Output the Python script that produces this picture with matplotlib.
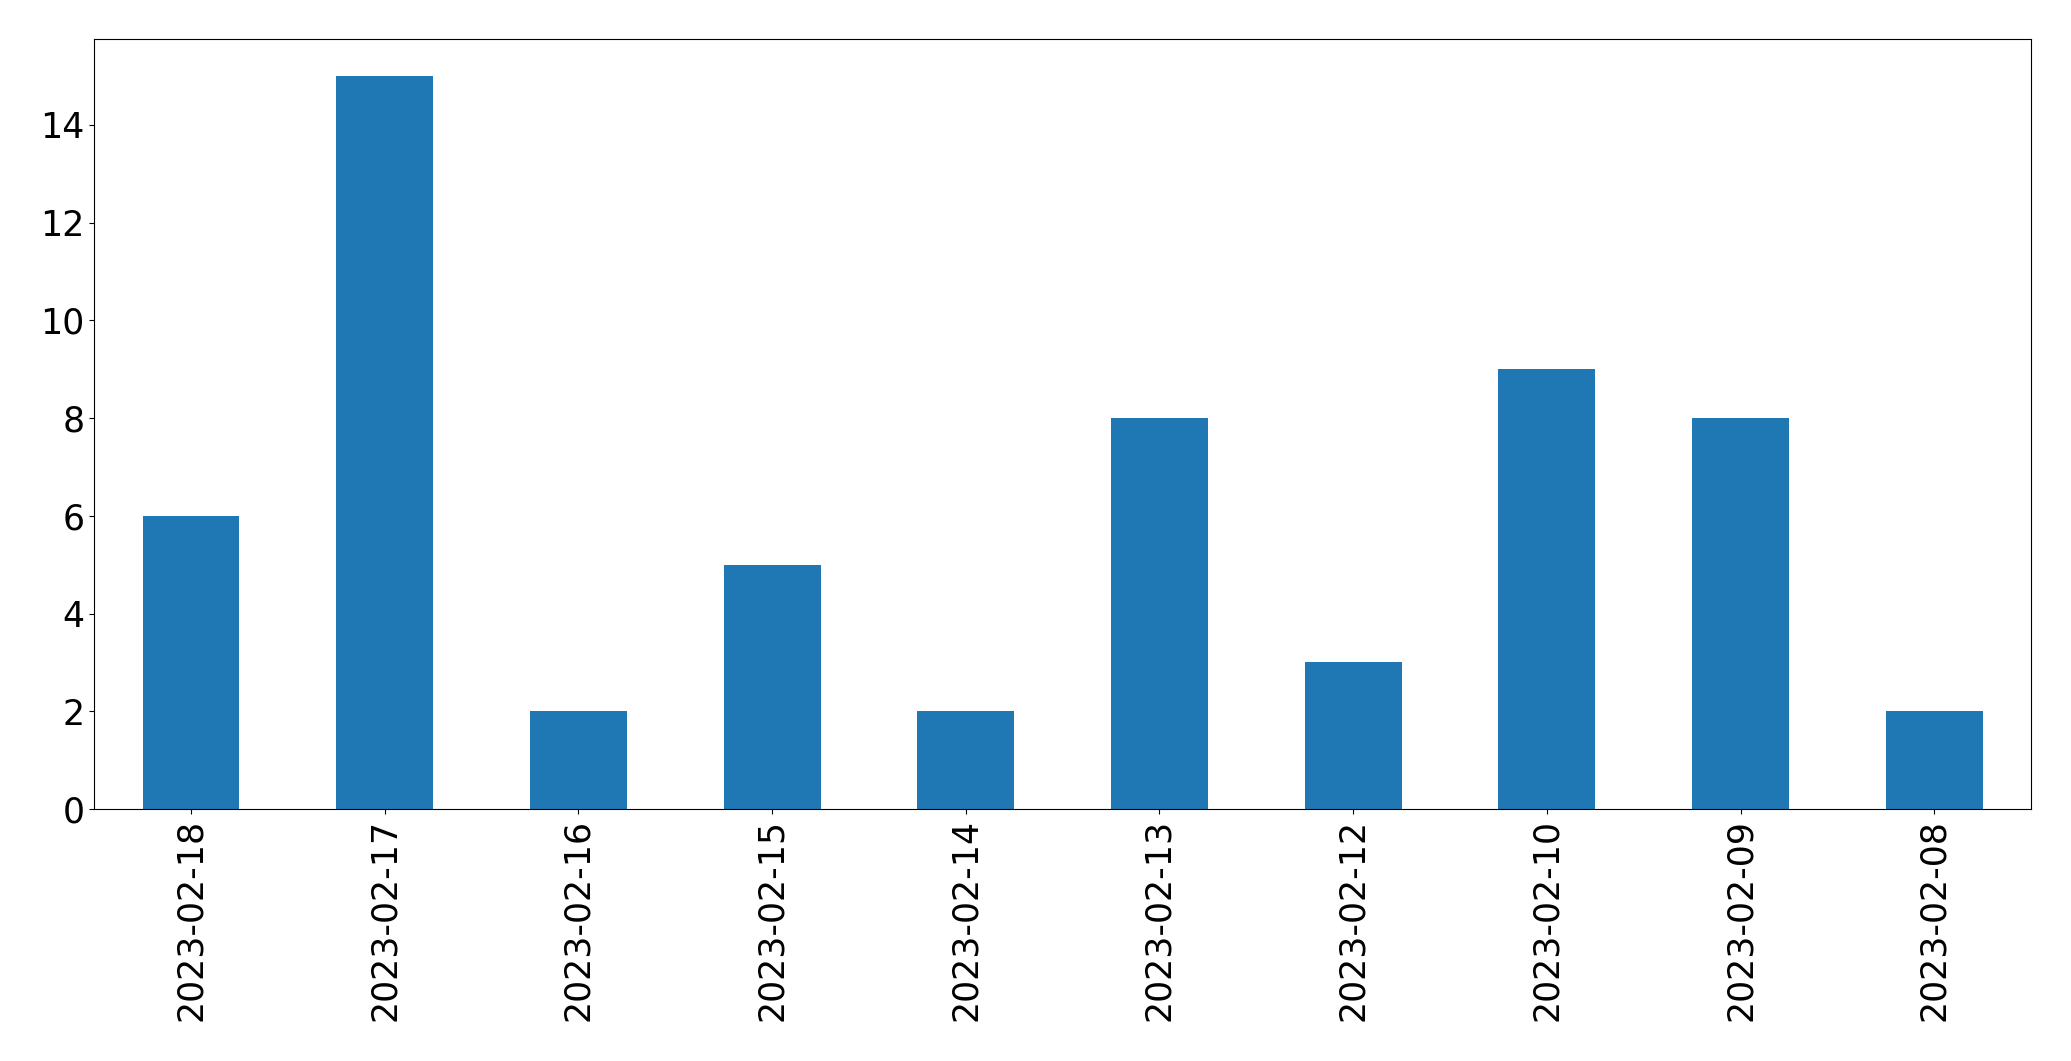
import matplotlib
matplotlib.use("Agg")
import matplotlib.pyplot as plt
import numpy as np

# data
dates = ['2023-02-18', '2023-02-17', '2023-02-16', '2023-02-15', '2023-02-14',
         '2023-02-13', '2023-02-12', '2023-02-10', '2023-02-09', '2023-02-08']
counts = [6, 15, 2, 5, 2, 8, 3, 9, 8, 2]

fig = plt.figure(figsize=(20.71, 10.61), dpi=100)
ax = fig.add_axes([0.0455, 0.2375, 0.9352, 0.7255])

x = np.arange(len(dates))
ax.bar(x, counts, width=0.5, color='#1f77b4')
ax.set_xlim(-0.5, len(dates) - 0.5)
ax.set_ylim(0, max(counts) * 1.05)
ax.set_xticks(x)
ax.set_xticklabels(dates, rotation=90)
ax.tick_params(axis='both', labelsize=25)

fig.savefig('out.png', dpi=100)
